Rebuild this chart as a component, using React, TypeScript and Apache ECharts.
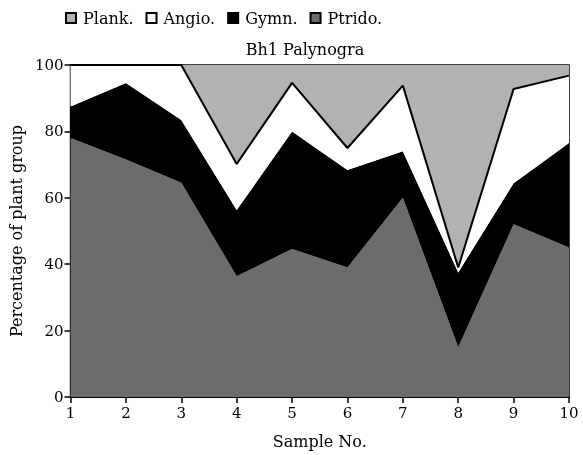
import React, { useEffect, useRef } from "react";
import * as echarts from "echarts";

const samples = ["1", "2", "3", "4", "5", "6", "7", "8", "9", "10"];
const ptrido = [78, 71.5, 64.5, 36.4, 44.6, 39, 60, 15, 52, 45];
const gymn = [9.5, 23.1, 18.9, 19.9, 35.4, 29.4, 14, 22.5, 12.4, 31.5];
const angio = [12.5, 5.4, 16.6, 13.9, 14.6, 6.6, 19.8, 1.5, 28.4, 20.3];
const plank = [0, 0, 0, 29.8, 5.4, 25, 6.2, 61, 7.2, 3.2];
const yTicks = { min: 0, max: 100, interval: 20 };

const FONT = "DejaVu Serif";

export default function App() {
  const ref = useRef<HTMLDivElement>(null);
  useEffect(() => {
    if (!ref.current) return;
    const chart = echarts.init(ref.current, null, { renderer: "svg" });
    const mk = (name: string, data: number[], color: string, line: any) => ({
      name,
      type: "line",
      stack: "total",
      data,
      symbol: "none",
      areaStyle: { color, opacity: 1 },
      itemStyle: { color, borderColor: "#000", borderWidth: 1 },
      lineStyle: line,
    });
    const txt = { fontFamily: FONT, fontSize: 16, color: "#000" };
    const tick = { fontFamily: FONT, fontSize: 15, color: "#000" };
    chart.setOption({
      animation: false,
      textStyle: { fontFamily: FONT, color: "#000" },
      title: {
        text: "Bh1 Palynogra",
        left: 300,
        textAlign: "center",
        top: 36,
        textStyle: { ...txt, fontWeight: "normal" },
      },
      legend: {
        data: ["Plank.", "Angio.", "Gymn.", "Ptrido."],
        left: 60,
        top: 5,
        icon: "rect",
        itemWidth: 10,
        itemHeight: 10,
        itemGap: 12,
        textStyle: { ...txt, padding: [0, 0, 0, 2] },
      },
      grid: { left: 67, right: 14, top: 65, bottom: 58, show: true, borderColor: "#000", borderWidth: 1.5, backgroundColor: "transparent" },
      xAxis: {
        type: "category",
        data: samples,
        boundaryGap: false,
        name: "Sample No.",
        nameLocation: "middle",
        nameGap: 36,
        nameTextStyle: txt,
        axisLine: { lineStyle: { color: "#000", width: 2 } },
        axisTick: { alignWithLabel: true, length: 6, lineStyle: { color: "#000", width: 1.5 } },
        axisLabel: { ...tick, margin: 8 },
        splitLine: { show: false },
      },
      yAxis: {
        type: "value",
        min: yTicks.min,
        max: yTicks.max,
        interval: yTicks.interval,
        name: "Percentage of plant group",
        nameLocation: "middle",
        nameGap: 44,
        nameTextStyle: txt,
        axisLine: { show: true, lineStyle: { color: "#000", width: 2 } },
        axisTick: { show: true, length: 6, lineStyle: { color: "#000", width: 1.5 } },
        axisLabel: { ...tick, margin: 7 },
        splitLine: { show: false },
      },
      series: [
        mk("Ptrido.", ptrido, "#6c6c6c", { width: 0 }),
        mk("Gymn.", gymn, "#000000", { width: 0 }),
        mk("Angio.", angio, "#ffffff", { width: 2, color: "#000" }),
        mk("Plank.", plank, "#b2b2b2", { width: 0 }),
      ],
    });
    return () => chart.dispose();
  }, []);
  return (
    <div
      ref={ref}
      style={{ position: "fixed", left: 0, top: 0, width: 583, height: 455, overflow: "hidden" }}
    />
  );
}
